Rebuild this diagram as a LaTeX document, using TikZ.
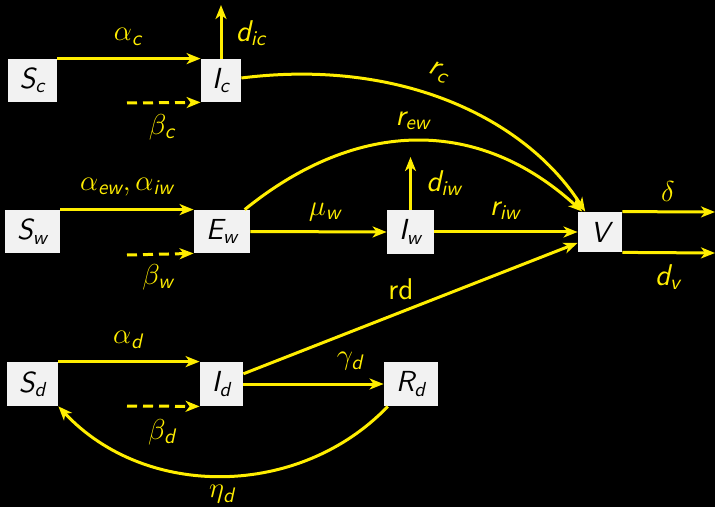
\documentclass[tikz,border=0pt]{standalone}
\usetikzlibrary{arrows.meta}
\DeclareMathAlphabet{\mathsfit}{TU}{lmss}{m}{sl}
\newcommand{\vv}[2]{$\mathsfit{#1}_{\mathsfit{#2}}$}
\definecolor{ylw}{RGB}{255,238,0}
\definecolor{boxfill}{RGB}{242,242,242}
\begin{document}
\begin{tikzpicture}[x=0.5pt,y=-0.5pt,
  comp/.style={draw=none,fill=boxfill,text=black,inner sep=0pt,font=\fontsize{14.5}{16}\selectfont},
  lbl/.style={text=ylw,inner sep=0pt,font=\fontsize{15}{17}\selectfont},
  flow/.style={draw=ylw,line width=1.5pt,-{Stealth[length=7pt,width=5.5pt,inset=2pt]}},
  dflow/.style={flow,dash pattern=on 5pt off 3pt}]
\fill[black] (0,0) rectangle (715,507);
\useasboundingbox (0,0) rectangle (715,507);
% compartments
\node[comp,minimum width=24.5pt,minimum height=21.5pt] (Sc) at (32.5,80.5) {\vv{S}{c}};
\node[comp,minimum width=20pt,minimum height=21.5pt] (Ic) at (221,80.5) {\vv{I}{c}};
\node[comp,minimum width=27.5pt,minimum height=21.5pt] (Sw) at (32.5,231.5) {\vv{S}{w}};
\node[comp,minimum width=28pt,minimum height=21.5pt] (Ew) at (222,231.5) {\vv{E}{w}};
\node[comp,minimum width=23.5pt,minimum height=21.5pt] (Iw) at (410.5,232) {\vv{I}{w}};
\node[comp,minimum width=22pt,minimum height=20pt] (V) at (600,232) {$\mathsfit{V}$};
\node[comp,minimum width=25.5pt,minimum height=22pt] (Sd) at (32.5,384) {\vv{S}{d}};
\node[comp,minimum width=21.5pt,minimum height=22pt] (Id) at (221.5,384) {\vv{I}{d}};
\node[comp,minimum width=27pt,minimum height=22pt] (Rd) at (411,384) {\vv{R}{d}};
% free ends
\coordinate (bc) at (127,103);
\coordinate (dic) at (221,5);
\coordinate (bw) at (127,255);
\coordinate (diw) at (410.5,157);
\coordinate (dl) at (715,212);
\coordinate (dv) at (715,253);
\coordinate (bd) at (127,406);
% c row
\draw[flow] (Sc.north east) -- (Ic.north west);
\draw[dflow] (bc) -- (Ic.south west);
\draw[flow] (Ic.north) -- (dic);
\draw[flow] (Ic.7) .. controls (400,58) and (525,118) .. (V.126);
% w row
\draw[flow] (Sw.north east) -- (Ew.north west);
\draw[dflow] (bw) -- (Ew.south west);
\draw[flow] (Ew.east) -- (Iw.west);
\draw[flow] (Iw.north) -- (diw);
\draw[flow] (Iw.east) -- (V.west);
\draw[flow] (Ew.44) .. controls (359,117) and (480,118) .. (V.131);
\draw[flow] (V.north east) -- (dl);
\draw[flow] (V.south east) -- (dv);
% d row
\draw[flow] (Sd.north east) -- (Id.north west);
\draw[dflow] (bd) -- (Id.south west);
\draw[flow] (Id.east) -- (Rd.west);
\draw[flow] (Id.25) -- (V.206);
\draw[flow] (Rd.224) .. controls (300,498) and (146,500) .. (Sd.south east);
% labels
\node[lbl] (lac) at (128,37) {$\alpha_{\mathsfit{c}}$};
\node[lbl] (lbc) at (162,127) {$\beta_{\mathsfit{c}}$};
\node[lbl] (ldic) at (251,33) {\vv{d}{ic}};
\node[lbl,rotate=-22] (lrc) at (439,72) {\vv{r}{c}};
\node[lbl] (law) at (127,187) {$\alpha_{\mathsfit{ew}},\alpha_{\mathsfit{iw}}$};
\node[lbl] (lbw) at (158,277) {$\beta_{\mathsfit{w}}$};
\node[lbl] (lmu) at (325,212) {$\mu_{\mathsfit{w}}$};
\node[lbl] (ldiw) at (444,183) {\vv{d}{iw}};
\node[lbl] (lrew) at (413,121) {\vv{r}{ew}};
\node[lbl] (lriw) at (505,211) {\vv{r}{iw}};
\node[lbl] (lrd) at (401,289) {\textsf{rd}};
\node[lbl] (ldel) at (668,192) {$\delta$};
\node[lbl] (ldv) at (668,277) {\vv{d}{v}};
\node[lbl] (lad) at (128,340) {$\alpha_{\mathsfit{d}}$};
\node[lbl] (lbd) at (162,432) {$\beta_{\mathsfit{d}}$};
\node[lbl] (lgd) at (350,361) {$\gamma_{\mathsfit{d}}$};
\node[lbl] (led) at (222,494) {$\eta_{\mathsfit{d}}$};
\end{tikzpicture}
\end{document}
